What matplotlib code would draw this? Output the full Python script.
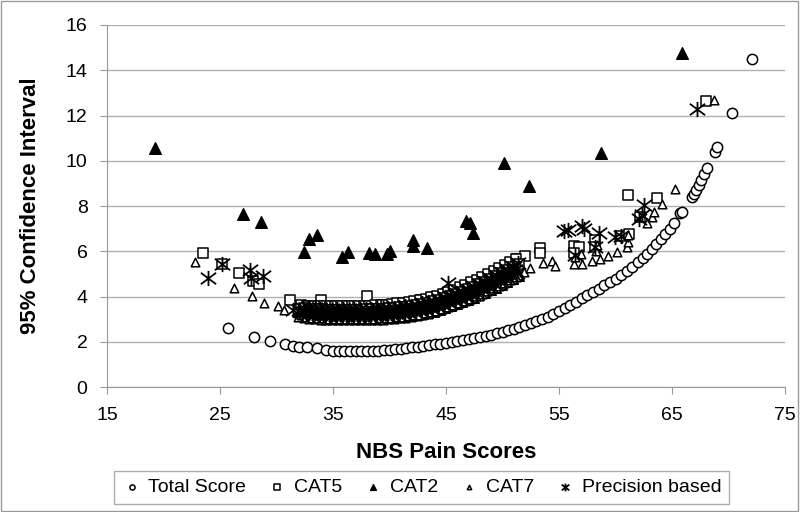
import matplotlib.pyplot as plt
from matplotlib.path import Path
from matplotlib.patches import Rectangle

plt.rcParams["font.family"] = ["Liberation Sans", "DejaVu Sans"]

# Total Score (open circles)
TOTAL_X = [25.7, 28.0, 29.4, 30.75, 31.5, 32.0, 32.7, 33.6, 34.4, 35.0, 35.5, 36.0,
           36.5, 37.0, 37.5, 38.0, 38.5, 39.0, 39.5, 40.0, 40.5, 41.0, 41.5, 42.0,
           42.5, 43.0, 43.5, 44.0, 44.5, 45.0, 45.5, 46.0, 46.5, 47.0, 47.5, 48.0,
           48.5, 49.0, 49.5, 50.0, 50.5, 51.0, 51.5, 52.0, 52.5, 53.0, 53.5, 54.0,
           54.5, 55.0, 55.5, 56.0, 56.5, 57.0, 57.5, 58.0, 58.5, 59.0, 59.5, 60.0,
           60.5, 61.0, 61.5, 62.0, 62.4, 62.8, 63.2, 63.6, 64.0, 64.4, 64.8, 65.2,
           65.7, 65.9, 66.8, 66.95, 67.15, 67.4, 67.6, 67.85, 68.1, 68.8, 68.95,
           70.3, 72.05]
TOTAL_Y = [2.62, 2.23, 2.04, 1.91, 1.84, 1.79, 1.77, 1.72, 1.65, 1.62, 1.60, 1.60,
           1.60, 1.60, 1.60, 1.60, 1.61, 1.62, 1.64, 1.66, 1.68, 1.71, 1.74, 1.77,
           1.80, 1.83, 1.86, 1.89, 1.93, 1.96, 2.00, 2.04, 2.08, 2.12, 2.16, 2.21,
           2.27, 2.33, 2.39, 2.45, 2.51, 2.57, 2.65, 2.73, 2.82, 2.91, 3.01, 3.12,
           3.24, 3.37, 3.50, 3.64, 3.78, 3.93, 4.07, 4.21, 4.36, 4.50, 4.64, 4.80,
           4.97, 5.15, 5.33, 5.52, 5.70, 5.89, 6.10, 6.33, 6.55, 6.76, 7.00, 7.24,
           7.69, 7.76, 8.39, 8.52, 8.72, 8.94, 9.16, 9.41, 9.70, 10.39, 10.63,
           12.13, 14.50]

# CAT5 (open squares) - scattered points, then the two rows of the dense band
CAT5_X = [23.5, 25.2, 26.7, 27.9, 28.45, 31.2, 33.9, 38.0, 42.4, 42.8, 44.0, 49.2,
          49.5, 51.3, 52.0, 53.3, 53.3, 56.3, 56.8, 56.3, 58.2, 58.2, 60.5, 61.2,
          62.2, 61.1, 63.7, 68.0]
CAT5_Y = [5.92, 5.45, 5.06, 4.70, 4.58, 3.86, 3.86, 4.05, 3.78, 3.86, 4.00, 4.81,
          4.74, 5.65, 5.80, 6.17, 5.95, 6.24, 6.21, 5.95, 6.50, 6.20, 6.70, 6.75,
          7.50, 8.49, 8.37, 12.66]
CAT5_BAND_X = [32.2, 32.7, 33.2, 33.7, 34.2, 34.7, 35.2, 35.7, 36.2, 36.7, 37.2, 37.7,
               38.2, 38.7, 39.2, 39.7, 40.2, 40.7, 41.2, 41.7, 42.2, 42.7, 43.2, 43.7,
               44.2, 44.7, 45.2, 45.7, 46.2, 46.7, 47.2, 47.7, 48.2, 48.7, 49.2, 49.7,
               50.2, 50.7, 51.2,
               32.45, 32.95, 33.45, 33.95, 34.45, 34.95, 35.45, 35.95, 36.45, 36.95,
               37.45, 37.95, 38.45, 38.95, 39.45, 39.95, 40.45, 40.95, 41.45, 41.95,
               42.45, 42.95, 43.45, 43.95, 44.45, 44.95, 45.45, 45.95, 46.45, 46.95,
               47.45, 47.95, 48.45, 48.95, 49.45, 49.95, 50.45, 50.95, 51.45]
CAT5_BAND_Y = [3.63, 3.61, 3.60, 3.59, 3.58, 3.58, 3.58, 3.58, 3.58, 3.58, 3.59, 3.60,
               3.61, 3.62, 3.63, 3.65, 3.67, 3.70, 3.73, 3.76, 3.80, 3.85, 3.90, 3.97,
               4.04, 4.12, 4.20, 4.30, 4.41, 4.52, 4.63, 4.74, 4.87, 5.00, 5.13, 5.27,
               5.40, 5.53, 5.65,
               3.50, 3.47, 3.46, 3.44, 3.43, 3.43, 3.43, 3.42, 3.42, 3.42,
               3.43, 3.44, 3.45, 3.46, 3.47, 3.48, 3.50, 3.53, 3.56, 3.59,
               3.63, 3.67, 3.72, 3.79, 3.86, 3.94, 4.02, 4.12, 4.22, 4.33,
               4.43, 4.54, 4.67, 4.79, 4.92, 5.05, 5.18, 5.31, 5.44]

# CAT2 (filled triangles)
CAT2_X = [19.25, 27.06, 28.6, 32.4, 32.85, 33.6, 35.8, 36.3, 38.2, 38.7, 39.8, 40.0,
          42.1, 42.1, 43.3, 46.8, 47.1, 47.4, 50.1, 52.35, 58.7, 65.86]
CAT2_Y = [10.57, 7.65, 7.31, 5.96, 6.54, 6.73, 5.77, 5.99, 5.95, 5.89, 5.89, 6.02,
          6.24, 6.50, 6.17, 7.36, 7.27, 6.80, 9.89, 8.90, 10.36, 14.78]
CAT2_BAND_X = [32.1, 32.6, 33.1, 33.6, 34.1, 34.6, 35.1, 35.6, 36.1, 36.6, 37.1, 37.6,
               38.1, 38.6, 39.1, 39.6, 40.1, 40.6, 41.1, 41.6, 42.1, 42.6, 43.1, 43.6,
               44.1, 44.6, 45.1, 45.6, 46.1, 46.6, 47.1, 47.6, 48.1, 48.6, 49.1, 49.6,
               50.1, 50.6, 51.1,
               32.35, 32.85, 33.35, 33.85, 34.35, 34.85, 35.35, 35.85, 36.35, 36.85,
               37.35, 37.85, 38.35, 38.85, 39.35, 39.85, 40.35, 40.85, 41.35, 41.85,
               42.35, 42.85, 43.35, 43.85, 44.35, 44.85, 45.35, 45.85, 46.35, 46.85,
               47.35, 47.85, 48.35, 48.85, 49.35, 49.85, 50.35, 50.85, 51.35]
CAT2_BAND_Y = [3.35, 3.31, 3.28, 3.27, 3.25, 3.24, 3.24, 3.23, 3.23, 3.23, 3.24, 3.24,
               3.25, 3.26, 3.27, 3.28, 3.30, 3.33, 3.35, 3.38, 3.42, 3.46, 3.51, 3.57,
               3.64, 3.72, 3.80, 3.90, 4.00, 4.10, 4.20, 4.30, 4.42, 4.54, 4.66, 4.79,
               4.92, 5.05, 5.18,
               3.22, 3.17, 3.14, 3.12, 3.10, 3.09, 3.08, 3.08, 3.08, 3.08,
               3.08, 3.08, 3.09, 3.09, 3.10, 3.11, 3.13, 3.16, 3.18, 3.21,
               3.24, 3.28, 3.33, 3.39, 3.46, 3.54, 3.62, 3.72, 3.81, 3.90,
               4.00, 4.10, 4.21, 4.33, 4.45, 4.57, 4.70, 4.83, 4.97]

# CAT7 (open triangles)
CAT7_X = [22.8, 26.2, 27.8, 28.9, 30.1, 30.7, 53.6, 54.4, 54.6, 56.3, 57.0, 57.9,
          58.6, 59.3, 60.1, 61.0, 61.1, 61.1, 62.75, 63.2, 63.4, 64.1, 65.3, 68.7,
          56.4, 56.9, 58.3, 58.4, 51.4, 51.9, 52.4]
CAT7_Y = [5.52, 4.40, 4.03, 3.71, 3.59, 3.41, 5.50, 5.59, 5.36, 5.45, 5.43, 5.59,
          5.65, 5.80, 5.99, 6.21, 6.43, 6.73, 7.24, 7.54, 7.75, 8.08, 8.76, 12.69,
          5.75, 5.90, 6.00, 6.30, 4.95, 5.10, 5.25]
CAT7_BAND_X = [31.9, 32.4, 32.9, 33.4, 33.9, 34.4, 34.9, 35.4, 35.9, 36.4, 36.9, 37.4,
               37.9, 38.4, 38.9, 39.4, 39.9, 40.4, 40.9, 41.4, 41.9, 42.4, 42.9, 43.4,
               43.9, 44.4, 44.9, 45.4, 45.9, 46.4, 46.9, 47.4, 47.9, 48.4, 48.9, 49.4,
               49.9, 50.4, 50.9,
               32.15, 32.65, 33.15, 33.65, 34.15, 34.65, 35.15, 35.65, 36.15, 36.65,
               37.15, 37.65, 38.15, 38.65, 39.15, 39.65, 40.15, 40.65, 41.15, 41.65,
               42.15, 42.65, 43.15, 43.65, 44.15, 44.65, 45.15, 45.65, 46.15, 46.65,
               47.15, 47.65, 48.15, 48.65, 49.15, 49.65, 50.15, 50.65, 51.15]
CAT7_BAND_Y = [3.12, 3.06, 3.02, 3.00, 2.98, 2.97, 2.96, 2.95, 2.95, 2.95, 2.95, 2.95,
               2.96, 2.96, 2.97, 2.98, 3.00, 3.02, 3.04, 3.07, 3.10, 3.14, 3.19, 3.25,
               3.32, 3.40, 3.48, 3.57, 3.66, 3.75, 3.84, 3.94, 4.05, 4.16, 4.28, 4.40,
               4.52, 4.65, 4.80,
               3.17, 3.12, 3.08, 3.06, 3.04, 3.03, 3.02, 3.01, 3.01, 3.01,
               3.01, 3.02, 3.03, 3.03, 3.04, 3.05, 3.07, 3.09, 3.11, 3.14,
               3.17, 3.21, 3.26, 3.32, 3.39, 3.47, 3.55, 3.64, 3.74, 3.83,
               3.92, 4.02, 4.13, 4.24, 4.37, 4.49, 4.61, 4.74, 4.89]

# Precision based (asterisks)
PREC_X = [23.9, 25.2, 27.65, 27.7, 28.8, 31.5, 45.2, 55.4, 55.8, 57.0, 57.2, 58.5,
          59.96, 60.5, 62.1, 62.5, 62.3, 67.2, 56.4, 58.2]
PREC_Y = [4.81, 5.45, 5.18, 4.81, 4.92, 3.41, 4.59, 6.90, 6.95, 7.12, 7.00, 6.80,
          6.65, 6.70, 7.42, 8.05, 7.60, 12.29, 5.84, 6.21]
PREC_BAND_X = [32.0, 32.5, 33.0, 33.5, 34.0, 34.5, 35.0, 35.5, 36.0, 36.5, 37.0, 37.5,
               38.0, 38.5, 39.0, 39.5, 40.0, 40.5, 41.0, 41.5, 42.0, 42.5, 43.0, 43.5,
               44.0, 44.5, 45.0, 45.5, 46.0, 46.5, 47.0, 47.5, 48.0, 48.5, 49.0, 49.5,
               50.0, 50.5, 51.0,
               32.25, 32.75, 33.25, 33.75, 34.25, 34.75, 35.25, 35.75, 36.25, 36.75,
               37.25, 37.75, 38.25, 38.75, 39.25, 39.75, 40.25, 40.75, 41.25, 41.75,
               42.25, 42.75, 43.25, 43.75, 44.25, 44.75, 45.25, 45.75, 46.25, 46.75,
               47.25, 47.75, 48.25, 48.75, 49.25, 49.75, 50.25, 50.75, 51.25,
               32.12, 32.62, 33.12, 33.62, 34.12, 34.62, 35.12, 35.62, 36.12, 36.62,
               37.12, 37.62, 38.12, 38.62, 39.12, 39.62, 40.12, 40.62, 41.12, 41.62,
               42.12, 42.62, 43.12, 43.62, 44.12, 44.62, 45.12, 45.62, 46.12, 46.62,
               47.12, 47.62, 48.12, 48.62, 49.12, 49.62, 50.12, 50.62, 51.12,
               32.38, 32.88, 33.38, 33.88, 34.38, 34.88, 35.38, 35.88, 36.38, 36.88,
               37.38, 37.88, 38.38, 38.88, 39.38, 39.88, 40.38, 40.88, 41.38, 41.88,
               42.38, 42.88, 43.38, 43.88, 44.38, 44.88, 45.38, 45.88, 46.38, 46.88,
               47.38, 47.88, 48.38, 48.88, 49.38, 49.88, 50.38, 50.88, 51.38]
PREC_BAND_Y = [3.43, 3.39, 3.37, 3.35, 3.34, 3.34, 3.33, 3.33, 3.33, 3.33, 3.33, 3.34,
               3.35, 3.36, 3.37, 3.38, 3.40, 3.43, 3.45, 3.48, 3.52, 3.57, 3.62, 3.68,
               3.75, 3.83, 3.91, 4.01, 4.11, 4.21, 4.31, 4.42, 4.54, 4.66, 4.79, 4.92,
               5.05, 5.18, 5.31,
               3.27, 3.23, 3.19, 3.18, 3.16, 3.15, 3.15, 3.14, 3.14, 3.14,
               3.14, 3.15, 3.16, 3.16, 3.17, 3.18, 3.20, 3.22, 3.25, 3.28,
               3.31, 3.35, 3.40, 3.47, 3.54, 3.62, 3.70, 3.79, 3.89, 3.98,
               4.08, 4.18, 4.30, 4.41, 4.54, 4.66, 4.78, 4.91, 5.06,
               3.35, 3.31, 3.28, 3.27, 3.25, 3.24, 3.24, 3.23, 3.23, 3.23,
               3.24, 3.24, 3.25, 3.26, 3.27, 3.28, 3.30, 3.33, 3.35, 3.38,
               3.42, 3.46, 3.51, 3.57, 3.64, 3.72, 3.80, 3.90, 4.00, 4.10,
               4.20, 4.30, 4.42, 4.54, 4.66, 4.79, 4.92, 5.05, 5.18,
               3.52, 3.49, 3.48, 3.46, 3.45, 3.45, 3.45, 3.44, 3.44, 3.44,
               3.45, 3.46, 3.47, 3.48, 3.49, 3.50, 3.52, 3.55, 3.58, 3.61,
               3.65, 3.70, 3.75, 3.82, 3.89, 3.97, 4.05, 4.15, 4.25, 4.36,
               4.46, 4.57, 4.70, 4.82, 4.95, 5.08, 5.21, 5.34, 5.47]

X_TICKS = [15, 25, 35, 45, 55, 65, 75]
Y_TICKS = [0, 2, 4, 6, 8, 10, 12, 14, 16]

# Excel style asterisk: an X with a vertical bar
star = Path([(-1, -0.75), (1, 0.75), (-1, 0.75), (1, -0.75), (0, -1), (0, 1)],
            [Path.MOVETO, Path.LINETO, Path.MOVETO, Path.LINETO, Path.MOVETO, Path.LINETO])

fig = plt.figure(figsize=(8, 5.12), dpi=100)
ax = fig.add_axes([0.1338, 0.2436, 0.8475, 0.7076])

ax.scatter(TOTAL_X, TOTAL_Y, marker="o", s=55, facecolors="white", edgecolors="black",
           linewidths=1.1, label="Total Score", zorder=3)
ax.scatter(CAT5_X + CAT5_BAND_X, CAT5_Y + CAT5_BAND_Y, marker="s", s=52,
           facecolors="white", edgecolors="black", linewidths=1.1, label="CAT5", zorder=3)
ax.scatter(CAT2_X + CAT2_BAND_X, CAT2_Y + CAT2_BAND_Y, marker="^", s=70, color="black",
           label="CAT2", zorder=3)
ax.scatter(CAT7_X + CAT7_BAND_X, CAT7_Y + CAT7_BAND_Y, marker="^", s=38,
           facecolors="white", edgecolors="black", linewidths=1.1, label="CAT7", zorder=3)
ax.scatter(PREC_X + PREC_BAND_X, PREC_Y + PREC_BAND_Y, marker=star, s=120, color="black",
           linewidths=1.3, label="Precision based", zorder=3)

ax.set_xlim(15, 75)
ax.set_ylim(0, 16)
ax.set_xticks(X_TICKS)
ax.set_yticks(Y_TICKS)
ax.tick_params(labelsize=14, color="#999999", length=5, direction="out", pad=9)
ax.grid(axis="y", color="#b0b0b0", linewidth=1.0)
ax.set_axisbelow(True)
for side in ["top", "right"]:
    ax.spines[side].set_visible(False)
for side in ["left", "bottom"]:
    ax.spines[side].set_color("#999999")

ax.set_xlabel("NBS Pain Scores", fontsize=16, fontweight="bold", labelpad=13)
ax.set_ylabel("95% Confidence Interval", fontsize=16, fontweight="bold", labelpad=18)

handles, labels = ax.get_legend_handles_labels()
leg = fig.legend(handles, labels, loc="center", bbox_to_anchor=(0.527, 0.0475), ncol=5,
                 fontsize=14, markerscale=0.5, handletextpad=0.35, columnspacing=1.1,
                 handlelength=1.0, fancybox=False, borderpad=0.4)
leg.get_frame().set_edgecolor("#999999")
leg.get_frame().set_linewidth(1.0)

fig.add_artist(Rectangle((0.001, 0.002), 0.997, 0.996, transform=fig.transFigure,
                         fill=False, edgecolor="#999999", linewidth=1.0))

fig.savefig("out.png", dpi=100)
